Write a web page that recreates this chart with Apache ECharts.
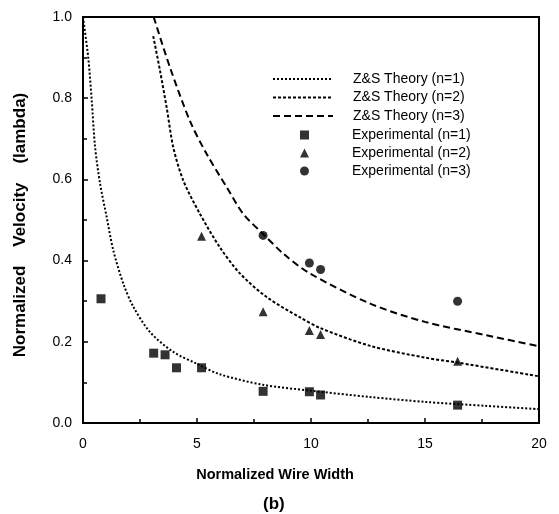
<!DOCTYPE html>
<html>
<head>
<meta charset="utf-8">
<script src="https://cdn.jsdelivr.net/npm/echarts@6/dist/echarts.min.js"></script>
<style>
html,body{margin:0;padding:0;background:#fff;}
#chart{width:559px;height:514px;}
</style>
</head>
<body>
<div id="chart"></div>
<script>
// Theory curves
const theory1X = [0, 0.23, 0.38, 0.53, 0.75, 1.04, 1.33, 1.77, 2.21, 2.94, 3.96, 4.99, 6.0, 7.9, 9.93, 12.6, 15.0, 17.7, 20];
const theory1Y = [1.0, 0.9, 0.797, 0.68, 0.589, 0.507, 0.425, 0.343, 0.286, 0.224, 0.175, 0.146, 0.12, 0.094, 0.08, 0.064, 0.052, 0.042, 0.034];
const theory2X = [3.08, 3.38, 3.67, 3.96, 4.4, 5.13, 6.0, 6.89, 8.06, 9.52, 10.4, 12.6, 15.0, 16.4, 20];
const theory2Y = [0.953, 0.867, 0.777, 0.679, 0.597, 0.515, 0.433, 0.368, 0.31, 0.26, 0.234, 0.19, 0.161, 0.149, 0.115];
const theory3X = [3.1, 3.82, 4.69, 5.42, 6.3, 7.03, 7.91, 8.79, 9.93, 12.6, 15.0, 17.7, 20];
const theory3Y = [1.0, 0.875, 0.744, 0.663, 0.581, 0.515, 0.465, 0.417, 0.369, 0.294, 0.249, 0.216, 0.189];
// Experimental points
const exp1X = [0.79, 3.1, 3.6, 4.1, 5.2, 7.9, 9.93, 10.42, 16.43];
const exp1Y = [0.306, 0.172, 0.168, 0.136, 0.136, 0.078, 0.077, 0.069, 0.044];
const exp2X = [5.2, 7.9, 9.93, 10.42, 16.43];
const exp2Y = [0.46, 0.274, 0.228, 0.218, 0.152];
const exp3X = [7.9, 9.93, 10.42, 16.43];
const exp3Y = [0.462, 0.394, 0.378, 0.30];
// Labels
const seriesNames = ['Z&S Theory (n=1)', 'Z&S Theory (n=2)', 'Z&S Theory (n=3)', 'Experimental (n=1)', 'Experimental (n=2)', 'Experimental (n=3)'];
const xTitle = 'Normalized Wire Width';
const yTitle = 'Normalized    Velocity    (lambda)';
const caption = '(b)';

const pairs = (xs, ys) => xs.map((x, i) => [x, ys[i]]);
const FONT = 'Liberation Sans, Arial, sans-serif';

const chart = echarts.init(document.getElementById('chart'), null, {renderer: 'canvas'});

const lineSeries = (name, xs, ys, dash) => ({
  name, type: 'line', data: pairs(xs, ys), showSymbol: false, symbol: 'none',
  smooth: 0.3, silent: true,
  lineStyle: {color: '#000', width: 2, type: dash},
  itemStyle: {color: '#000'}
});
const scatterSeries = (name, xs, ys, sym, size) => ({
  name, type: 'scatter', data: pairs(xs, ys), symbol: sym, symbolSize: size,
  itemStyle: {color: '#000'}
});

chart.setOption({
  animation: false,
  backgroundColor: '#fff',
  title: {
    text: caption, left: 258, top: 491,
    textStyle: {fontFamily: FONT, fontSize: 17, fontWeight: 'bold', color: '#000'}
  },
  grid: {left: 83, right: 20, top: 17, bottom: 91, show: true, borderColor: '#000', borderWidth: 2, containLabel: false},
  legend: [
    {
      data: seriesNames.slice(0, 3), orient: 'vertical', left: 267, top: 67,
      itemWidth: 60, itemHeight: 14, itemGap: 4.5, selectedMode: false,
      itemStyle: {color: 'rgba(0,0,0,0)', borderColor: 'rgba(0,0,0,0)', borderWidth: 0},
      textStyle: {fontFamily: FONT, fontSize: 14, color: '#000', padding: [0, 0, 0, 15]}
    },
    {
      data: seriesNames.slice(3), orient: 'vertical', left: 295, top: 123,
      itemWidth: 9, itemHeight: 9, itemGap: 4, selectedMode: false,
      textStyle: {fontFamily: FONT, fontSize: 14, color: '#000', padding: [0, 0, 0, 38]}
    }
  ],
  xAxis: {
    type: 'value', min: 0, max: 20, interval: 5,
    name: xTitle, nameLocation: 'middle', nameGap: 44,
    nameTextStyle: {fontFamily: FONT, fontSize: 14.5, fontWeight: 'bold', color: '#000', padding: [0, 72, 0, 0]},
    axisLine: {show: true, lineStyle: {color: '#000', width: 2}},
    axisTick: {show: true, inside: true, length: 5, lineStyle: {color: '#000', width: 1.5}},
    minorTick: {show: true, splitNumber: 2, length: 4, lineStyle: {color: '#000', width: 1.5}},
    splitLine: {show: false},
    axisLabel: {fontFamily: FONT, fontSize: 14, color: '#000', margin: 14}
  },
  yAxis: {
    type: 'value', min: 0, max: 1, interval: 0.2,
    name: yTitle, nameLocation: 'middle', nameGap: 54, nameRotate: 90,
    nameTextStyle: {fontFamily: FONT, fontSize: 17, fontWeight: 'bold', color: '#000', padding: [0, 10, 0, 0]},
    axisLine: {show: true, lineStyle: {color: '#000', width: 2}},
    axisTick: {show: true, inside: true, length: 5, lineStyle: {color: '#000', width: 1.5}},
    minorTick: {show: true, splitNumber: 2, length: 4, lineStyle: {color: '#000', width: 1.5}},
    splitLine: {show: false},
    axisLabel: {fontFamily: FONT, fontSize: 14, color: '#000', margin: 11, formatter: v => v.toFixed(1)}
  },
  series: [
    lineSeries(seriesNames[0], theory1X, theory1Y, [2, 2]),
    lineSeries(seriesNames[1], theory2X, theory2Y, [3, 2]),
    lineSeries(seriesNames[2], theory3X, theory3Y, [7, 4]),
    scatterSeries(seriesNames[3], exp1X, exp1Y, 'rect', 9),
    scatterSeries(seriesNames[4], exp2X, exp2Y, 'triangle', 9),
    scatterSeries(seriesNames[5], exp3X, exp3Y, 'circle', 9)
  ]
});
</script>
</body>
</html>
